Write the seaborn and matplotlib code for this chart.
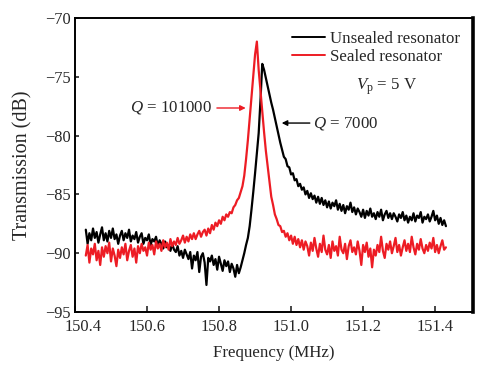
import numpy as np
import pandas as pd
import matplotlib
matplotlib.use("Agg")
import matplotlib.pyplot as plt
import matplotlib.transforms as mtransforms
import seaborn as sns

# Frequency sweep (MHz): 201 points from 150.430 to 151.430
FREQ_START = 150.430
FREQ_STOP = 151.430
N_POINTS = 201

unsealed_db = [
    -88.0, -89.2, -88.3, -88.9, -87.9, -88.7, -88.2, -89.1, -88.4, -87.8,
    -88.9, -88.3, -89.0, -88.1, -88.7, -87.9, -88.8, -88.4, -89.2, -88.5,
    -88.1, -88.9, -88.3, -88.7, -88.0, -89.0, -88.5, -88.8, -88.2, -89.1,
    -88.6, -88.3, -89.2, -88.7, -88.9, -88.4, -89.3, -88.8, -89.0, -88.6,
    -89.4, -88.9, -89.2, -89.6, -89.0, -89.5, -89.3, -89.8, -89.2, -89.7,
    -89.9, -89.4, -90.2, -89.8, -90.4, -89.7, -90.1, -90.5, -89.9, -91.3,
    -90.2, -90.6, -89.9, -91.6, -90.3, -90.0, -90.8, -92.7, -90.4, -90.7,
    -90.2, -91.0, -90.5, -91.4, -90.3, -90.9, -91.5, -90.6, -91.1, -90.7,
    -91.6, -90.9, -91.3, -92.0, -91.0, -91.7, -91.2, -90.6, -90.0, -89.3,
    -88.7, -87.7, -86.3, -84.8, -83.2, -81.5, -79.8, -77.0, -73.9, -74.4,
    -75.1, -75.8, -76.5, -77.2, -77.8, -78.5, -79.2, -79.9, -80.6, -81.2,
    -81.8, -82.0, -82.6, -82.7, -83.3, -83.2, -83.8, -83.7, -84.3, -84.1,
    -84.6, -84.4, -85.0, -84.7, -85.3, -84.9, -85.4, -85.1, -85.7, -85.2,
    -85.8, -85.3, -85.9, -85.5, -86.1, -85.6, -86.2, -85.7, -86.0, -85.5,
    -86.3, -85.8, -86.4, -85.9, -86.6, -86.0, -86.3, -85.7, -86.5, -86.1,
    -86.7, -86.2, -86.5, -86.9, -86.3, -87.0, -86.4, -86.8, -86.2, -86.9,
    -86.6, -87.1, -86.5, -86.9, -86.3, -87.2, -86.7, -86.4, -87.0, -86.6,
    -87.1, -86.6, -86.9, -87.3, -86.7, -87.0, -86.5, -87.2, -86.8, -87.4,
    -86.9, -87.2, -86.6, -87.3, -86.8, -87.0, -86.5, -87.4, -86.9, -87.1,
    -86.7, -87.3, -86.9, -86.4, -87.2, -86.8, -87.5, -87.0, -87.6, -87.2,
    -87.7,
]

sealed_db = [
    -90.2, -89.3, -90.8, -89.6, -90.1, -89.2, -90.6, -89.8, -91.0, -89.5,
    -90.3, -89.4, -90.0, -89.1, -90.7, -89.6, -90.2, -91.1, -89.7, -90.4,
    -89.5, -90.1, -89.2, -90.6, -89.8, -89.3, -90.3, -89.6, -90.8, -89.4,
    -90.0, -89.2, -89.8, -89.5, -90.2, -89.1, -89.7, -89.3, -90.1, -89.0,
    -89.6, -89.2, -89.8, -88.9, -89.5, -89.1, -89.7, -88.8, -89.4, -89.0,
    -89.3, -88.7, -89.2, -88.9, -88.5, -89.1, -88.6, -89.0, -88.4, -88.8,
    -88.3, -88.8, -88.4, -88.1, -88.6, -88.2, -88.0, -88.5, -87.9, -88.3,
    -87.6, -88.0, -87.4, -87.7, -87.2, -87.5, -86.9, -87.2, -86.7, -86.9,
    -86.5, -86.6, -86.1, -85.9, -85.5, -85.3, -84.8, -84.3, -83.4, -82.0,
    -80.4, -78.6, -76.8, -75.0, -73.1, -72.0, -74.4, -76.2, -77.9, -79.7,
    -81.3, -82.6, -83.9, -85.2, -85.9, -86.7, -87.1, -87.6, -87.7, -88.2,
    -88.1, -88.6, -88.3, -88.9, -88.5, -89.2, -88.6, -89.3, -88.8, -89.5,
    -88.9, -89.7, -89.0, -89.4, -90.2, -89.1, -89.8, -88.7, -89.6, -90.3,
    -89.2, -89.9, -88.5, -89.7, -90.1, -89.3, -90.4, -89.0, -89.8, -89.4,
    -90.2, -88.6, -89.7, -90.0, -89.2, -90.5, -89.4, -88.9, -89.9, -89.5,
    -90.1, -89.0, -89.8, -91.0, -89.3, -89.9, -89.1, -90.3, -89.6, -91.2,
    -89.7, -90.2, -89.3, -89.9, -88.6, -89.8, -90.4, -89.2, -89.7, -89.0,
    -90.0, -89.4, -88.7, -89.9, -89.3, -90.2, -89.5, -88.9, -89.8, -89.2,
    -89.9, -88.6, -89.5, -90.1, -89.2, -89.7, -88.8, -89.6, -90.0, -89.3,
    -89.8, -89.1, -89.6, -88.7, -89.9, -89.3, -90.0, -89.4, -88.9, -89.7,
    -89.5,
]

series_names = ["Unsealed resonator", "Sealed resonator"]
series_colors = ["#000000", "#ED1C24"]
x_ticks = [150.4, 150.6, 150.8, 151.0, 151.2, 151.4]
y_ticks = [-95, -90, -85, -80, -75, -70]

freq = np.linspace(FREQ_START, FREQ_STOP, N_POINTS)
df = pd.DataFrame({
    "Frequency": np.concatenate([freq, freq]),
    "Transmission": np.concatenate([unsealed_db, sealed_db]),
    "Device": [series_names[0]] * N_POINTS + [series_names[1]] * N_POINTS,
})

sns.set_style("ticks")
plt.rcParams["font.family"] = ["Liberation Serif", "DejaVu Serif"]
plt.rcParams["mathtext.fontset"] = "custom"
plt.rcParams["mathtext.rm"] = "Liberation Serif"
plt.rcParams["mathtext.it"] = "Liberation Serif:italic"

fig = plt.figure(figsize=(5.01, 3.76), dpi=100)
ax = fig.add_axes([0.1497, 0.1702, 0.7943, 0.7818])

sns.lineplot(data=df, x="Frequency", y="Transmission", hue="Device",
             hue_order=series_names, palette=dict(zip(series_names, series_colors)),
             estimator=None, sort=False, linewidth=1.6, ax=ax)

ax.set_xlim(150.4, 151.505)
ax.set_ylim(-95, -70)
ax.set_xticks(x_ticks)
ax.set_xticklabels([f"{t:.1f}" for t in x_ticks])
ax.set_yticks(y_ticks)
ax.set_yticklabels([f"\u2212{abs(t)}" for t in y_ticks])
ax.tick_params(direction="in", length=4, width=1.2, labelsize=11.8)
ax.tick_params(axis="x", pad=5)
ax.tick_params(axis="y", length=3, pad=3)
for s in ["left", "bottom", "top"]:
    ax.spines[s].set_linewidth(1.4)
    ax.spines[s].set_color("black")
ax.spines["right"].set_linewidth(2.6)
ax.spines["right"].set_color("black")

# the first frequency label sits a little to the right, clear of "−95"
first_lbl = ax.get_xticklabels()[0]
first_lbl.set_transform(first_lbl.get_transform() +
                        mtransforms.ScaledTranslation(0.08, 0, fig.dpi_scale_trans))

ax.set_xlabel("Frequency (MHz)", fontsize=12.2, labelpad=7)
ax.set_ylabel("Transmission (dB)", fontsize=14.5, labelpad=9)

leg = ax.legend(loc="upper right", frameon=False, fontsize=12.2,
                handlelength=1.9, handletextpad=0.35, labelspacing=0.12,
                borderaxespad=0.1, bbox_to_anchor=(0.99, 0.985))
for line in leg.get_lines():
    line.set_linewidth(1.4)

ax.text(151.181, -75.8, r"$V_{\mathrm{p}}$ = 5 V", fontsize=12.2, va="center", ha="left")
ax.text(150.781, -77.65, r"$Q$ = 101000", fontsize=12.2, va="center", ha="right")
ax.annotate("", xy=(150.874, -77.65), xytext=(150.794, -77.65),
            arrowprops=dict(arrowstyle="-|>", color="#ED1C24", lw=1.0,
                            mutation_scale=8, shrinkA=0, shrinkB=0))
ax.text(151.061, -78.93, r"$Q$ = 7000", fontsize=12.2, va="center", ha="left")
ax.annotate("", xy=(150.974, -78.93), xytext=(151.052, -78.93),
            arrowprops=dict(arrowstyle="-|>", color="black", lw=1.0,
                            mutation_scale=8, shrinkA=0, shrinkB=0))

fig.savefig("out.png", dpi=100)
